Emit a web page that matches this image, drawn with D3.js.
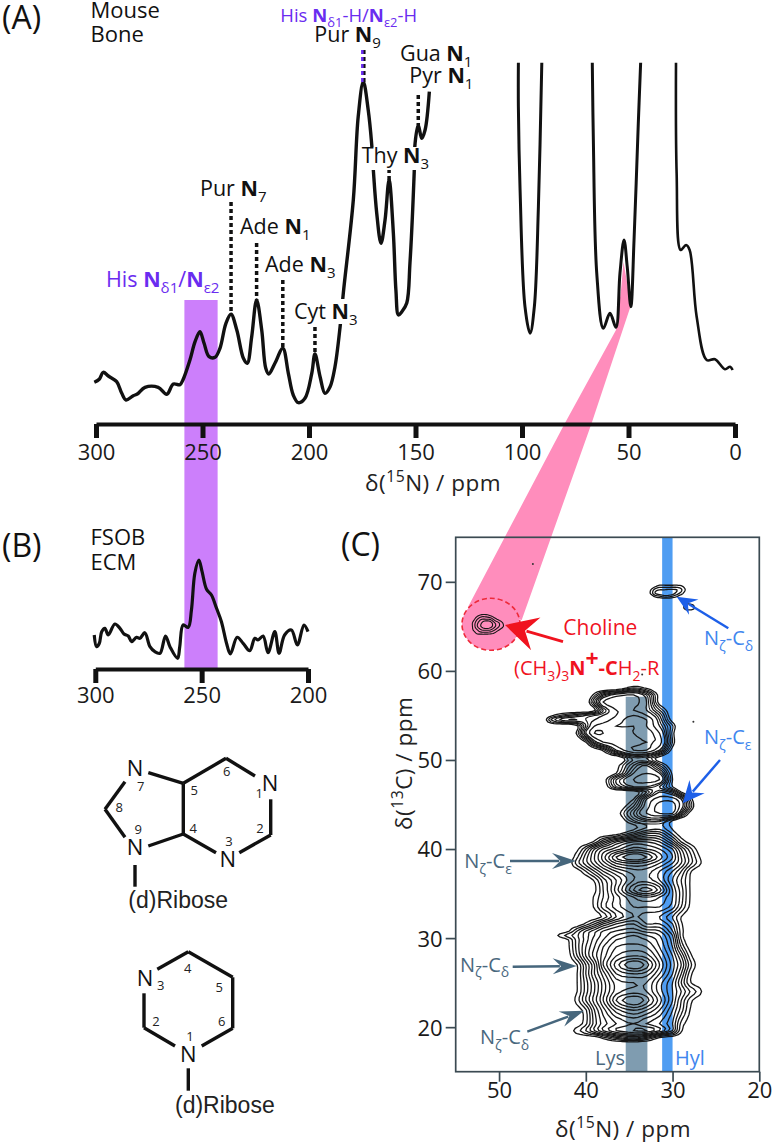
<!DOCTYPE html>
<html>
<head>
<meta charset="utf-8">
<script src="https://cdn.jsdelivr.net/npm/d3@7"></script>
<style>
body { margin: 0; background: #fff; }
text { font-family: "Open Sans", sans-serif; }
</style>
</head>
<body>
<svg id="main" width="774" height="1144"></svg>
<script>
// spectrum (A): [ppm, intensity], the three pieces are clipped at the top in the paper
const specA1 = [[300.8,40.7],[298.5,43.7],[296.6,50.7],[294.2,47],[290.3,41.3],[287.9,29.7],[285.9,23],[282.5,27.3],[280.6,29],[277,35.7],[270.8,35.7],[266.8,28.7],[263.7,39],[260.6,38.3],[259.2,43],[255.9,63],[253.5,81.3],[251.2,91.3],[249.3,80],[246.9,66.3],[244.1,65.7],[241.8,74.7],[239,99.7],[236.6,108.7],[233.9,93],[230.8,64.7],[229,59.7],[226.9,86.3],[224.6,123],[222.2,93],[220.3,54.7],[218.9,49],[216,59.7],[212.3,74.7],[209.7,49.7],[207.4,28],[205,20.3],[201.9,24.7],[198.7,49.7],[197.2,69],[194.8,46.3],[192.5,29.7],[190.1,36.3],[187.8,56.3],[185.4,96.3],[183.9,129.7],[179.2,223],[176.9,306.3],[174.5,341.3],[172.2,313],[170.6,279.7],[169.8,253],[168.2,209.7],[166.2,179.7],[164.3,203],[162.4,243],[160.4,190],[159.2,133],[158,108],[156.5,111],[154.1,120],[152.6,160],[150.6,251],[150.2,279.7],[148.7,298],[147.1,284.7],[145.5,293],[143.5,331.3]];
const specA2 = [[101.7,360.3],[101.7,316.3],[100.9,233],[98.6,116.3],[96.2,89.7],[94.2,116.3],[92.3,216.3],[90.7,360.3]];
const specA3 = [[67,360.3],[66.5,283],[64.9,149.7],[61.8,94.7],[58.7,109.7],[55.9,95.7],[54,150],[52.1,183],[50.6,156.3],[48.9,116.3],[47.4,183],[45.4,299.7],[44.3,360.3]];
const specA4 = [[27.7,360.3],[27.4,249.7],[25.5,173],[23,178],[21.3,173],[18,106.3],[13.3,63],[9.4,63.7],[4.7,53.7],[2.3,56.3],[1.1,53]];
const specB = [[300.5,34],[299.4,22.3],[298.1,25.7],[297,37.3],[295.5,40.7],[293.9,34],[290.8,45],[288.4,40.7],[286.5,35],[284.5,33],[282.9,27.3],[280.6,31.7],[279,30.7],[276.7,36.3],[274.3,22.3],[272,17.3],[269.6,15.7],[267,33],[264.9,22.3],[261.3,10.7],[260.3,22.3],[258.7,44],[256.3,41.7],[254.8,59],[253.2,95.7],[251.3,109],[249.8,97.3],[247.7,79.7],[245.4,74],[243,60.7],[240.7,47.3],[238.3,25.7],[236.5,15],[233.3,31.7],[230.5,25.7],[227.4,18.3],[225,30.7],[223.5,29],[221.1,33],[218.8,16.3],[215.6,37.3],[213.6,15.7],[211,34],[207.8,39],[205,24],[201.9,44],[200,37.3]];

const ticksA = [300, 250, 200, 150, 100, 50, 0];
const ticksB = [300, 250, 200];
const ticksCx = [50, 40, 30, 20];
const ticksCy = [70, 60, 50, 40, 30, 20];

// dotted assignment lines: ppm, top intensity, bottom intensity
const dropLines = [[236.6,221,109],[224.6,180,123],[212.3,143,75],[197.2,96,69],[162.4,254,242],[148.7,328,298]];

// contour levels, one row per 13C ppm, top row first
const gridN = [45,44,43,42,41,40,39,38,36.5,34.5,33,31.5,30,29,28,27,26,25];
const gridC = [58.8,58.1,57.3,56.5,55.6,55,54.5,53.8,53,52,51.1,50.2,49.4,48.5,47.8,47,46.4,45.6,44.8,44,43.2,42.4,41.7,40.8,40,39.1,38.4,37.5,36.5,35.4,34.6,33.5,32.4,31.6,30.8,30.3,29.8,29,28,27,26,25,24,23,21.9,20.4,19.6,18.8,18.2];
const gridZ = [
[0,0,0,0,0,0,0,0,0,0,0,0,0,0,0,0,0,0],
[0,0,0,0,0,0,0,0,0,1.5,.8,0,0,0,0,0,0,0],
[0,0,0,0,0,0,1.3,3,4.5,5,3.5,.6,0,0,0,0,0,0],
[0,0,0,0,0,.3,2.5,5,6,5.5,4,.6,0,0,0,0,0,0],
[0,0,0,0,0,0,.8,3,5,5,4,2,.2,0,0,0,0,0],
[0,.8,1.5,2,2.5,3,3.5,4,5,6,5,3,.3,0,0,0,0,0],
[.3,2,3,3.5,3.5,3.5,4,4.5,5.5,6.5,6,3.5,.6,0,0,0,0,0],
[0,0,0,0,.8,3,5,5.5,6,6,6,4,1.6,0,0,0,0,0],
[0,0,0,0,1.2,4,6,6,5.5,6,6.5,5,1.3,0,0,0,0,0],
[0,0,0,0,0,1,3.5,5,5.5,5.5,6,5.5,1.5,0,0,0,0,0],
[0,0,0,0,0,0,.3,1.2,4,6,6,4,.6,0,0,0,0,0],
[0,0,0,0,0,0,0,0,0,2.2,2,.5,0,0,0,0,0,0],
[0,0,0,0,0,0,0,0,.6,3,4,2,.3,0,0,0,0,0],
[0,0,0,0,0,0,0,0,1,4,5,4,.8,0,0,0,0,0],
[0,0,0,0,0,0,0,.5,3,5,5.5,5,1,0,0,0,0,0],
[0,0,0,0,0,0,0,.3,2.5,4,4,3,1,0,0,0,0,0],
[0,0,0,0,0,0,0,0,0,.4,2,4,3,1,0,0,0,0],
[0,0,0,0,0,0,0,0,0,1,4,5.5,5.5,4,1.5,0,0,0],
[0,0,0,0,0,0,0,0,.1,2,4.5,6.5,6.5,4.5,2,0,0,0],
[0,0,0,0,0,0,0,0,.5,3,5,6,6,3,.7,0,0,0],
[0,0,0,0,0,0,0,0,0,2,3,3,1,0,0,0,0,0],
[0,0,0,0,0,0,0,0,0,.6,2,2.5,.8,0,0,0,0,0],
[0,0,0,0,0,0,0,0,.5,3,5,5,2,.3,0,0,0,0],
[0,0,0,0,0,0,1.3,4,7,9,9,8,5,2,.5,0,0,0],
[0,0,0,0,.7,3,6,8,9.5,11.5,11,10,8,5,2.5,.5,0,0],
[0,0,0,0,1.8,4.5,7,9.5,13,15,14,11.5,9,6,3.5,1.2,0,0],
[0,0,0,.2,2.5,4.5,6.5,8.5,11,12,11.5,10,8,6,3.5,1.5,0,0],
[0,0,0,0,.3,2,4,6,8,9.5,9.5,8,6,4,1.3,0,0,0],
[0,0,0,0,0,0,1.2,3.5,6,9,9.5,8,5,3,1,0,0,0],
[0,0,0,0,0,0,.7,3,6.5,11,12.5,10.5,6,3.5,1,0,0,0],
[0,0,0,0,0,0,1.2,3,5.5,8,9,8,6,3.5,1,0,0,0],
[0,0,0,0,0,0,1.2,3.5,5.5,7,7,7,5.5,3,.8,0,0,0],
[0,0,0,0,0,0,.3,1.3,4,6,5.5,5,3,1,0,0,0,0],
[0,0,0,0,0,1.3,3,5,7,8,6,6,4,1.2,0,0,0,0],
[0,0,0,.8,3,5,6.5,8,9,9.5,8.5,8,5,1.5,0,0,0,0],
[0,0,1.3,2.5,3.8,5.5,7,8.5,10,11,10,9,6,1.5,0,0,0,0],
[0,0,0,1,3.5,5.5,7.5,9,11,11.5,11,9.5,6.5,2,0,0,0,0],
[0,0,0,.8,3.5,6,8,10,12,12.5,12,10,7,3,.5,0,0,0],
[0,0,0,.5,3,6,8.5,10.5,13,14,13.5,11,8,5,1.5,0,0,0],
[0,0,0,0,1,4,7,11,14.5,17,15.5,12,8.5,6,2.5,.4,0,0],
[0,0,0,0,1,4,7,9.5,13,14,13.5,11,8,5,1.5,0,0,0],
[0,0,0,0,1,3.5,6,8.5,11.5,12,12,9.5,7,4,1.2,.2,0,0],
[0,0,0,0,1,3.5,6,8.5,11.5,12.5,12,9.5,7,5,3,1.6,0,0],
[0,0,0,0,1.5,4,6.5,9,13,15,13.5,10.5,7,4,1.5,.2,0,0],
[0,0,0,0,.3,1.8,5,7.5,10.5,12,11,9,6,3.5,1,0,0,0],
[0,0,0,0,.3,1.7,4.5,6.5,8,9,8,7,5,1.7,.4,0,0,0],
[0,0,0,.4,1.5,3,5,7,9,10,10,8,5,1.2,0,0,0,0],
[0,0,0,0,0,0,0,1.4,3.5,5,3.5,.8,0,0,0,0,0,0],
[0,0,0,0,0,0,0,0,0,0,0,0,0,0,0,0,0,0]
];

// small isolated cross peaks
const cholineN = [53.5,53,52.5,52,51.5,51,50.5,50,49.5,49];
const cholineC = [66.6,66.2,65.8,65.4,65,64.6,64.2,63.9];
const cholineZ = [
[0,0,0,0,0,0,0,0,0,0],
[0,0,.8,1.5,1.5,1,.3,0,0,0],
[0,.5,2,3,3,2.8,1.5,.6,0,0],
[0,1.2,2.8,4,5,4.5,3,2,.8,0],
[0,1.2,3,4.2,5,4.5,3.2,2,1,0],
[0,1,2,3,3.2,3,2,1,.3,0],
[0,.3,1.2,1.4,1.4,1.2,.8,0,0,0],
[0,0,0,0,0,0,0,0,0,0]
];
const hylN = [33,32.5,32,31.5,31,30.5,30,29.5,29,28.5,28];
const hylC = [69.9,69.5,69.1,68.7,68.3,68];
const hylZ = [
[0,0,0,0,0,0,0,0,0,0,0],
[0,0,.8,1.5,1.5,1.5,1.5,1.5,1.2,.5,0],
[0,1,2.5,3,3,3.2,3.2,3,2.2,.9,0],
[0,1.2,3,3.5,4,4,3.5,2.5,1.5,.4,0],
[0,0,1,1.5,2,2,1.5,.8,0,0,0],
[0,0,0,0,0,0,0,0,0,0,0]
];
const smallN = [29,28.5,28,27.5,27];
const smallC = [67.7,67.4,67,66.7];
const smallZ = [[0,0,0,0,0],[0,1.5,1.5,.8,0],[0,1.5,2,1,0],[0,0,0,0,0]];
const specks = [[46.1,72],[33.5,59.6],[27.6,54.3]];

// purine / pyrimidine sketches
const purineBonds = [[125,781.7,105,809.3],[105,809.3,125,837.3],[148.3,772.7,183.3,783.3],[183.3,783.3,226,758.3],[226,758.3,255,776],[270.7,799.3,270.7,835],[270.7,835,239.3,852.7],[216,852.7,183.3,834],[183.3,834,148.3,846],[183.3,783.3,183.3,834],[135,865,135,886.7]];
const pyrimidineBonds = [[157.3,969.3,188.3,951.7],[188.3,951.7,232.7,977.3],[232.7,977.3,232.7,1028.3],[232.7,1028.3,201.7,1046],[175,1046,144,1027.7],[144,1027.7,144,993.3],[188.3,1068.3,188.3,1090.7]];
const ringN = [[135,776],[270,791],[227.7,867],[135,854.5],[145,986],[188.3,1062]];
const ringNums = [['7',140.7,791],['5',194.3,795],['6',226.7,775.5],['1',259.3,798],['8',119.3,812],['9',138.3,834],['4',193.3,832.5],['3',229,845.5],['2',260,833],['3',160.7,990],['4',187.7,973],['5',219.3,991.5],['6',221.7,1025.5],['2',156,1025.5],['1',190,1041]];

const purple = '#cc7ffb';
const hisText = '#6a2cf0';
const pink = '#ff8dbc';
const red = '#f0131f';
const lysBar = '#7f9cb0';
const hylBar = '#4f9df2';
const lysText = '#4a687e';
const hylText = '#3f86ee';
const dark = '#3b4a52';

const svg = d3.select('#main');

const xA = d3.scaleLinear().domain([300, 0]).range([96, 735]);
const yA = d3.scaleLinear().domain([0, 400]).range([423, 23]);
const xB = d3.scaleLinear().domain([300, 200]).range([95.3, 308]);
const yB = d3.scaleLinear().domain([0, 120]).range([669, 549]);
const xC = d3.scaleLinear().domain([55, 20]).range([455.7, 759.3]);
const yC = d3.scaleLinear().domain([15, 75]).range([1071.7, 537.3]);

// text with bold, sub and superscript parts
function rich(x, y, parts, size, color, rotate) {
    const t = svg.append('text')
        .attr('font-size', size)
        .attr('fill', color || '#111');
    if (rotate) t.attr('transform', `translate(${x},${y}) rotate(${rotate})`);
    else t.attr('x', x).attr('y', y);
    let off = 0;
    parts.forEach(p => {
        const o = typeof p === 'string' ? { t: p } : p;
        const shift = o.sub ? size * 0.28 : o.sup ? -size * 0.38 : 0;
        const ts = t.append('tspan').text(o.t).attr('dy', shift - off);
        if (o.sub || o.sup) ts.attr('font-size', size * 0.7);
        if (o.big) ts.attr('font-size', size * 1.15);
        if (o.b) ts.attr('font-weight', 700);
        off = shift;
    });
    return t;
}

function arrow(x1, y1, x2, y2, len, wid, color, sw) {
    const a = Math.atan2(y2 - y1, x2 - x1);
    const pt = (l, s) => [x2 - l * Math.cos(a) - s * Math.sin(a), y2 - l * Math.sin(a) + s * Math.cos(a)];
    svg.append('line').attr('x1', x1).attr('y1', y1)
        .attr('x2', pt(len * 0.7, 0)[0]).attr('y2', pt(len * 0.7, 0)[1])
        .attr('stroke', color).attr('stroke-width', sw);
    svg.append('path')
        .attr('d', d3.line()([[x2, y2], pt(len, wid), pt(len * 0.65, 0), pt(len, -wid)]) + 'Z')
        .attr('fill', color);
}

// smooth the read-off grid a little so the rings are not diamonds
function spline(vals, k) {
    const out = [];
    const at = i => vals[Math.max(0, Math.min(vals.length - 1, i))];
    for (let i = 0; i < vals.length - 1; i++) {
        for (let s = 0; s < k; s++) {
            const t = s / k;
            const [a, b, c, d] = [at(i - 1), at(i), at(i + 1), at(i + 2)];
            out.push(Math.max(0, 0.5 * (2 * b + (c - a) * t + (2 * a - 5 * b + 4 * c - d) * t * t + (3 * b - a - 3 * c + d) * t * t * t)));
        }
    }
    out.push(vals[vals.length - 1]);
    return out;
}

// contours of a read-off grid, through d3.contours
function peak(cols, rows, z, levels, sw) {
    const k = 3;
    const ix = d3.scaleLinear().domain(cols.map((d, i) => i * k + 0.5)).range(cols);
    const iy = d3.scaleLinear().domain(rows.map((d, i) => i * k + 0.5)).range(rows);
    const ring = d3.line()
        .x(p => xC(ix(p[0])))
        .y(p => yC(iy(p[1])));
    const byCol = z.map(r => spline(r, k));
    const dense = d3.range(byCol[0].length).map(j => spline(byCol.map(r => r[j]), k));
    // dense is column first, d3.contours wants rows
    const nx = dense.length;
    const ny = dense[0].length;
    const flat = [];
    for (let j = 0; j < ny; j++) for (let i = 0; i < nx; i++) flat.push(dense[i][j]);
    const sets = d3.contours().size([nx, ny]).thresholds(levels)(flat);
    sets.forEach(s => {
        s.coordinates.forEach(poly => poly.forEach(r => {
            svg.append('path')
                .attr('d', ring(r) + 'Z')
                .attr('fill', 'none')
                .attr('stroke', '#161616')
                .attr('stroke-width', sw);
        }));
    });
}

// purple His band runs through A and B
svg.append('rect')
    .attr('x', xA(258.5)).attr('width', xA(242.9) - xA(258.5))
    .attr('y', 300).attr('height', 368)
    .attr('fill', purple);

// pink wedge from the 50 ppm peak down to the choline cross peak
svg.append('path')
    .attr('d', d3.line()([[623.5, 262], [631, 305], [591.7, 423], [521.7, 620], [468, 607], [565, 423], [616, 330], [621, 290]]) + 'Z')
    .attr('fill', pink);

// (C) bands and frame
svg.append('rect')
    .attr('x', xC(35.4)).attr('width', xC(32.9) - xC(35.4))
    .attr('y', yC(57.1)).attr('height', yC(15) - yC(57.1))
    .attr('fill', lysBar);
svg.append('rect')
    .attr('x', xC(31.2)).attr('width', xC(30) - xC(31.2))
    .attr('y', yC(75)).attr('height', yC(15) - yC(75))
    .attr('fill', hylBar);
svg.append('ellipse')
    .attr('cx', 491).attr('cy', 624.3).attr('rx', 29).attr('ry', 26)
    .attr('fill', pink)
    .attr('stroke', '#ee2a3a').attr('stroke-width', 1.6).attr('stroke-dasharray', '5 3');

// spectra
const lineA = d3.line().curve(d3.curveCatmullRom.alpha(0.5)).x(d => xA(d[0])).y(d => yA(d[1]));
const lineB = d3.line().curve(d3.curveCatmullRom.alpha(0.5)).x(d => xB(d[0])).y(d => yB(d[1]));
[[specA1, 3.4], [specA2, 3], [specA3, 3], [specA4, 2.6]].forEach(([s, w]) => {
    svg.append('path').attr('d', lineA(s))
        .attr('fill', 'none').attr('stroke', '#111').attr('stroke-width', w)
        .attr('stroke-linejoin', 'round');
});
svg.append('path').attr('d', lineB(specB))
    .attr('fill', 'none').attr('stroke', '#111').attr('stroke-width', 3.2)
    .attr('stroke-linejoin', 'round');

// dotted assignment lines
svg.selectAll('line.drop').data(dropLines).join('line')
    .attr('class', 'drop')
    .attr('x1', d => xA(d[0])).attr('x2', d => xA(d[0]))
    .attr('y1', d => yA(d[1])).attr('y2', d => yA(d[2]))
    .attr('stroke', '#111').attr('stroke-width', 3.5).attr('stroke-dasharray', '4 3');
svg.append('line').attr('x1', xA(174.5) + 1).attr('x2', xA(174.5) + 1).attr('y1', 50).attr('y2', 82)
    .attr('stroke', '#111').attr('stroke-width', 2.5).attr('stroke-dasharray', '4 3');
svg.append('line').attr('x1', xA(174.5) - 1).attr('x2', xA(174.5) - 1).attr('y1', 50).attr('y2', 82)
    .attr('stroke', hisText).attr('stroke-width', 2.5).attr('stroke-dasharray', '4 3');

// white gaps where labels sit on the trace
svg.append('rect').attr('x', 360).attr('y', 147).attr('width', 72).attr('height', 23).attr('fill', '#fff');
svg.append('rect').attr('x', 294).attr('y', 299).attr('width', 68).attr('height', 25).attr('fill', '#fff');

// axes
function styleAxis(g, labelY) {
    g.select('.domain').attr('stroke', '#111').attr('stroke-width', 4);
    g.selectAll('.tick line').attr('stroke', '#111').attr('stroke-width', 5);
    g.selectAll('.tick text')
        .attr('y', labelY).attr('dy', 0)
        .attr('fill', '#1a1a1a').attr('font-size', 22)
        .style('font-family', '"Open Sans", sans-serif');
}
svg.append('g').attr('transform', 'translate(0,424)')
    .call(d3.axisBottom(xA).tickValues(ticksA).tickSize(14).tickSizeOuter(0))
    .call(styleAxis, 36);
svg.append('g').attr('transform', 'translate(0,669)')
    .call(d3.axisBottom(xB).tickValues(ticksB).tickSize(14).tickSizeOuter(0))
    .call(styleAxis, 34);

// (C) contours, the upper part has extra half levels
peak(gridN, gridC, gridZ, d3.range(1, 18), 1.3);
peak(gridN, gridC.slice(0, 22), gridZ.slice(0, 21).concat([gridZ[0]]), [1.5, 2.5, 3.5], 1.1);
peak(cholineN, cholineC, cholineZ, [1, 2, 3, 4], 1.1);
peak(hylN, hylC, hylZ, [1, 2, 3], 1.3);
peak(smallN, smallC, smallZ, [1], 1.3);
svg.selectAll('circle.speck').data(specks).join('circle')
    .attr('class', 'speck')
    .attr('cx', d => xC(d[0])).attr('cy', d => yC(d[1])).attr('r', 1)
    .attr('fill', '#333');

// (C) frame and axes
svg.append('rect')
    .attr('x', xC(55)).attr('y', yC(75))
    .attr('width', xC(20) - xC(55)).attr('height', yC(15) - yC(75))
    .attr('fill', 'none').attr('stroke', dark).attr('stroke-width', 1.7);
function styleAxisC(g) {
    g.select('.domain').remove();
    g.selectAll('.tick line').attr('stroke', dark).attr('stroke-width', 1.7);
    g.selectAll('.tick text').attr('fill', '#1a1a1a').attr('font-size', 22)
        .style('font-family', '"Open Sans", sans-serif');
}
svg.append('g').attr('transform', `translate(0,${yC(15)})`)
    .call(d3.axisBottom(xC).tickValues(ticksCx).tickSize(10))
    .call(styleAxisC)
    .call(g => g.selectAll('.tick text').attr('y', 26).attr('dy', 0));
svg.append('g').attr('transform', `translate(${xC(55)},0)`)
    .call(d3.axisLeft(yC).tickValues(ticksCy).tickSize(10))
    .call(styleAxisC)
    .call(g => g.selectAll('.tick text').attr('x', -13).attr('dy', '0.36em'));

// arrows in (C)
arrow(563, 641.7, 505, 625, 32, 17, red, 2.8);
arrow(728.3, 628.3, 676.7, 596.7, 20, 9, '#1d5fe8', 2.4);
arrow(720, 760, 682.7, 803.3, 22, 10, '#1d5fe8', 2.4);
arrow(510, 861, 576, 861, 24, 8, '#46667c', 2.4);
arrow(512.7, 966.7, 576.7, 966, 24, 8, '#46667c', 2.4);
arrow(527.3, 1031.7, 584, 1010.7, 24, 8, '#46667c', 2.4);

// labels
const sz = 21.5;
rich(2, 29, ['(A)'], 32);
rich(2, 557, ['(B)'], 32);
rich(341, 556, ['(C)'], 32);
rich(90.5, 18, ['Mouse'], 22);
rich(90.5, 42, ['Bone'], 22);
rich(90.5, 545, ['FSOB'], 22);
rich(90.5, 570, ['ECM'], 22);
rich(280.3, 21.7, ['His ', { t: 'N', b: 1 }, { t: 'δ1', sub: 1 }, '-H/', { t: 'N', b: 1 }, { t: 'ε2', sub: 1 }, '-H'], 18.5, hisText);
rich(106, 287.3, ['His ', { t: 'N', b: 1 }, { t: 'δ1', sub: 1 }, '/', { t: 'N', b: 1 }, { t: 'ε2', sub: 1 }], 21.5, hisText);
[['Pur ', '9', 314.3, 41.7], ['Gua ', '1', 400, 61], ['Pyr ', '1', 409.3, 83], ['Thy ', '3', 361.7, 163.3],
 ['Pur ', '7', 200, 196], ['Ade ', '1', 240, 234.3], ['Ade ', '3', 265, 272.3], ['Cyt ', '3', 294, 319.3]].forEach(l => {
    rich(l[2], l[3], [l[0], { t: 'N', b: 1 }, { t: l[1], sub: 1 }], sz);
});
rich(365, 491, ['δ(', { t: '15', sup: 1 }, 'N) / ppm'], 22.5, '#222').attr('letter-spacing', 0.5);
rich(555, 1137, ['δ(', { t: '15', sup: 1 }, 'N) / ppm'], 22.5, '#222').attr('letter-spacing', 0.5);
rich(412, 830, ['δ(', { t: '13', sup: 1 }, 'C) / ppm'], 22.5, '#222', -90).attr('letter-spacing', 0.5);

rich(563.3, 635, ['Choline'], 21, red);
rich(514, 675, ['(CH', { t: '3', sub: 1 }, ')', { t: '3', sub: 1 }, { t: 'N', b: 1 }, { t: '+', sup: 1, b: 1, big: 1 }, { t: '-C', b: 1 }, 'H', { t: '2', sub: 1 }, '-R'], 20, red);
const nz = (lab) => ['N', { t: 'ζ', sub: 1 }, '-C', { t: lab, sub: 1 }];
rich(704, 645, nz('δ'), 20, hylText);
rich(704, 744, nz('ε'), 20, hylText);
rich(464.3, 868, nz('ε'), 20, lysText);
rich(460, 971.7, nz('δ'), 20, lysText);
rich(480, 1044.3, nz('δ'), 20, lysText);
rich(595, 1065, ['Lys'], 20, lysText);
rich(675, 1065, ['Hyl'], 20, hylText);

// ring sketches
svg.selectAll('line.bond').data(purineBonds.concat(pyrimidineBonds)).join('line')
    .attr('class', 'bond')
    .attr('x1', d => d[0]).attr('y1', d => d[1]).attr('x2', d => d[2]).attr('y2', d => d[3])
    .attr('stroke', '#111').attr('stroke-width', 3.4);
svg.selectAll('text.ringn').data(ringN).join('text')
    .attr('class', 'ringn')
    .attr('x', d => d[0]).attr('y', d => d[1])
    .attr('text-anchor', 'middle').attr('font-size', 22).attr('fill', '#111')
    .text('N');
svg.selectAll('text.ringnum').data(ringNums).join('text')
    .attr('class', 'ringnum')
    .attr('x', d => d[1]).attr('y', d => d[2])
    .attr('text-anchor', 'middle').attr('font-size', 13).attr('fill', '#222')
    .text(d => d[0]);
[[128.3, 908.3], [175, 1113.3]].forEach(p => {
    svg.append('text').attr('x', p[0]).attr('y', p[1])
        .attr('font-size', 23).attr('fill', '#222')
        .style('font-family', '"Liberation Sans", sans-serif')
        .text('(d)Ribose');
});
</script>
</body>
</html>
